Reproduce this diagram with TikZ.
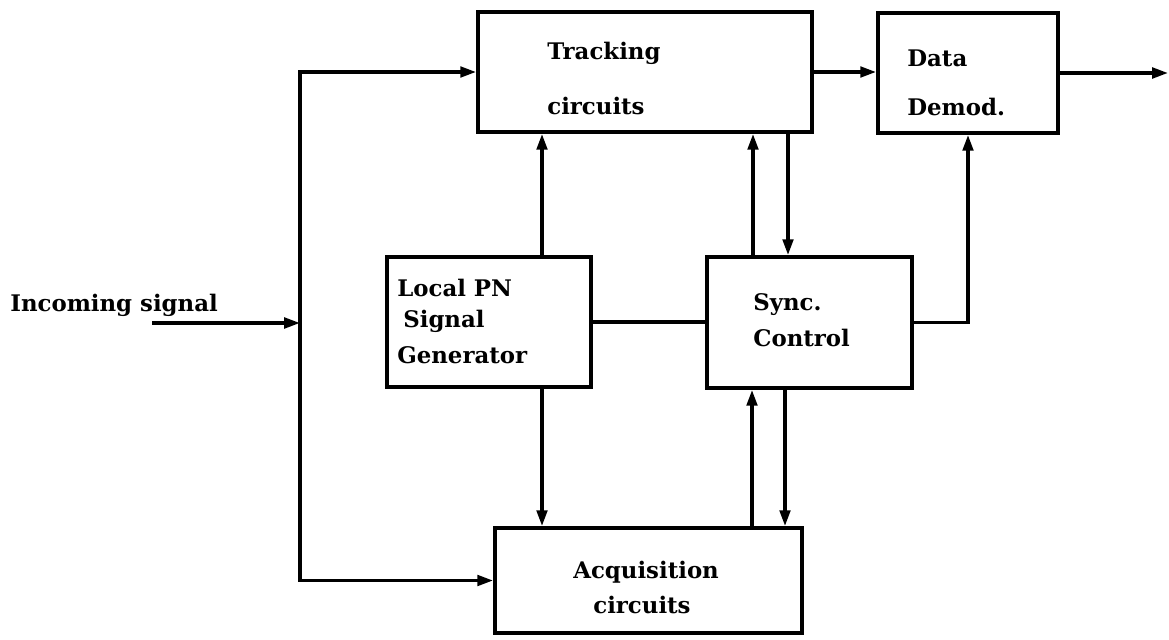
\documentclass[tikz,border=0pt]{standalone}
\usepackage{fontspec}
\setmainfont{DejaVu Serif}
\usepackage{tikz}
\usetikzlibrary{arrows.meta}
\tikzstyle{block} = [draw=black, line width=2.2pt, rectangle, inner sep=0pt]
\tikzstyle{blocktext} = [anchor=west, inner sep=0pt, font=\fontsize{13}{15}\selectfont\bfseries]
\tikzstyle{wire} = [line width=1.9pt]
\tikzstyle{arrowwire} = [wire, -{Triangle[length=9pt,width=6pt]}]

\begin{document}
\begin{tikzpicture}[x=0.02cm, y=-0.02cm]
    \useasboundingbox (0,0) rectangle (1169,639);
    % blocks
    \node[block, minimum width=6.68cm, minimum height=2.4cm] (trk) at (645,72) {};
    \node[block, minimum width=3.6cm, minimum height=2.4cm] (dem) at (968,73) {};
    \node[block, minimum width=4.08cm, minimum height=2.6cm] (lpn) at (489,322) {};
    \node[block, minimum width=4.1cm, minimum height=2.62cm] (syn) at (809.5,322.5) {};
    \node[block, minimum width=6.14cm, minimum height=2.1cm] (acq) at (648.5,580.5) {};
    % texts
    \node[blocktext] (trk1) at (547,53) {Tracking};
    \node[blocktext] (trk2) at (547,106) {circuits};
    \node[blocktext] (dem1) at (907,58) {Data};
    \node[blocktext] (dem2) at (907,107) {Demod.};
    \node[blocktext] (lpn1) at (397,288) {Local PN};
    \node[blocktext] (lpn2) at (403,321) {Signal};
    \node[blocktext] (lpn3) at (397,355) {Generator};
    \node[blocktext] (syn1) at (753,305) {Sync.};
    \node[blocktext] (syn2) at (753,338) {Control};
    \node[blocktext] (acq1) at (573,572) {Acquisition};
    \node[blocktext] (acq2) at (593,605) {circuits};
    \node[blocktext] (insig) at (10,305) {Incoming signal};
    % connectors
    \coordinate (in) at (152,323);
    \coordinate (tap) at (300,323);
    \coordinate (out) at (1168,73);
    \coordinate (xa) at (542,0);
    \coordinate (xb) at (753,0);
    \coordinate (xc) at (788,0);
    \coordinate (xd) at (752,0);
    \coordinate (xe) at (785,0);
    \draw[arrowwire] (in) -- (tap);
    \draw[arrowwire] (tap) |- (trk.west);
    \draw[arrowwire] (tap) |- (acq.west);
    \draw[arrowwire] (trk.east) -- (trk.east -| dem.west);
    \draw[arrowwire] (dem.east) -- (out);
    \draw[arrowwire] (lpn.north -| xa) -- (trk.south -| xa);
    \draw[arrowwire] (lpn.south -| xa) -- (acq.north -| xa);
    \draw[arrowwire] (syn.north -| xb) -- (trk.south -| xb);
    \draw[arrowwire] (trk.south -| xc) -- (syn.north -| xc);
    \draw[arrowwire] (acq.north -| xd) -- (syn.south -| xd);
    \draw[arrowwire] (syn.south -| xe) -- (acq.north -| xe);
    \draw[wire] (lpn.east) -- (lpn.east -| syn.west);
    \draw[arrowwire] (syn.east) -| (dem.south);
\end{tikzpicture}
\end{document}
